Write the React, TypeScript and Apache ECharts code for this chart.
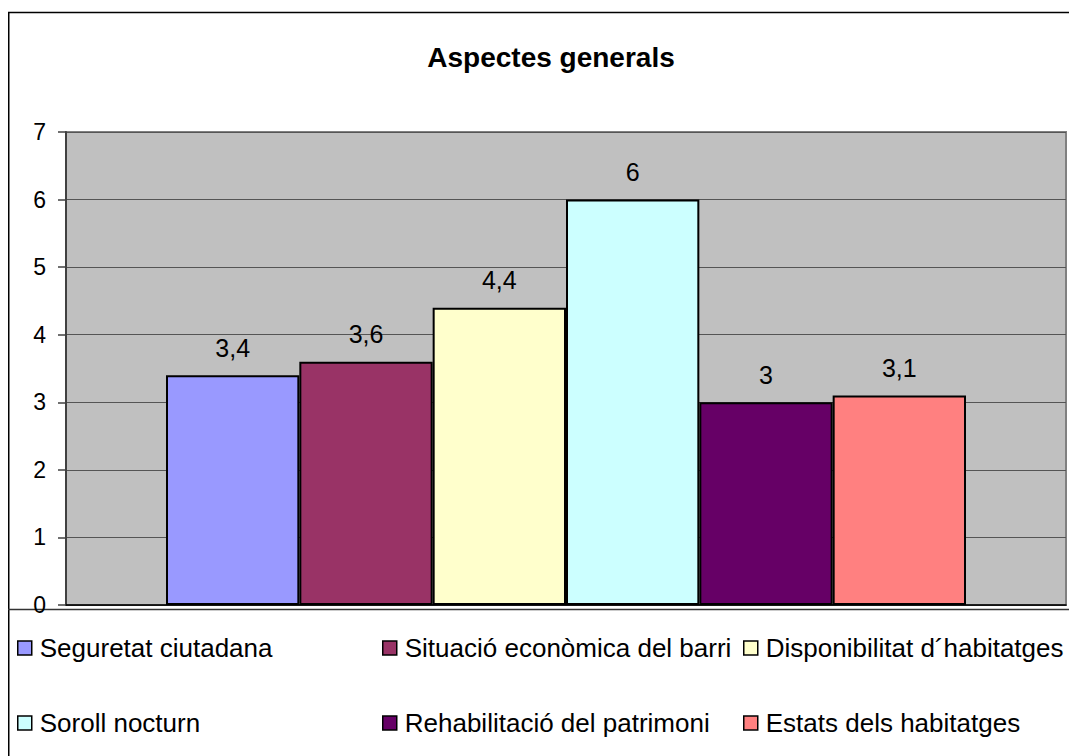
import React, { useEffect, useRef } from "react";
import * as echarts from "echarts";

const titleText = "Aspectes generals";
const seriesNames = [
  "Seguretat ciutadana",
  "Situació econòmica del barri",
  "Disponibilitat d´habitatges",
  "Soroll nocturn",
  "Rehabilitació del patrimoni",
  "Estats dels habitatges",
];
const seriesValues = [3.4, 3.6, 4.4, 6, 3, 3.1];
const seriesColors = ["#9999FF", "#993366", "#FFFFCC", "#CCFFFF", "#660066", "#FF8080"];
const yTicks = [0, 1, 2, 3, 4, 5, 6, 7];

const FONT = 'Arial, "Liberation Sans", sans-serif';

export default function App() {
  const ref = useRef<HTMLDivElement>(null);
  useEffect(() => {
    if (!ref.current) return;
    const chart = echarts.init(ref.current, null, { renderer: "svg" });
    const legendCols = [9, 374, 735];
    const legendRows = [627, 702];
    const legends = seriesNames.map((name, i) => ({
      show: true,
      data: [name],
      left: legendCols[i % 3],
      top: legendRows[Math.floor(i / 3)],
      itemWidth: 14,
      itemHeight: 14,
      icon: "rect",
      selectedMode: false,
      itemStyle: { borderColor: "#000", borderWidth: 1.5 },
      textStyle: { fontFamily: FONT, fontSize: 26, color: "#000", lineHeight: 26, padding: [0, 0, 0, 3] },
      padding: 0,
    }));
    chart.setOption({
      animation: false,
      backgroundColor: "#fff",
      title: {
        text: titleText,
        left: 538,
        textAlign: "center",
        top: 30,
        textStyle: { fontFamily: FONT, fontSize: 28, fontWeight: "bold", color: "#000", lineHeight: 28 },
      },
      graphic: [
        {
          type: "rect",
          shape: { x: 0.75, y: 4.5, width: 2000, height: 2000 },
          style: { fill: "none", stroke: "#000", lineWidth: 1.5 },
          z: -10,
          silent: true,
        },
        {
          type: "line",
          shape: { x1: 0, y1: 601.5, x2: 2000, y2: 601.5 },
          style: { stroke: "#333", lineWidth: 1.5 },
          silent: true,
        },
      ],
      legend: legends,
      grid: {
        left: 58,
        top: 124,
        width: 1000,
        height: 473,
        show: true,
        backgroundColor: "#C0C0C0",
        borderColor: "#808080",
        borderWidth: 2,
        containLabel: false,
      },
      xAxis: {
        type: "category",
        data: [""],
        axisLine: { show: true, lineStyle: { color: "#000", width: 1.5 } },
        axisTick: { show: false },
        axisLabel: { show: false },
      },
      yAxis: {
        type: "value",
        min: yTicks[0],
        max: yTicks[yTicks.length - 1],
        interval: 1,
        axisLine: { show: true, lineStyle: { color: "#404040", width: 2 } },
        axisTick: { show: true, length: 8, lineStyle: { color: "#404040", width: 1.5 } },
        axisLabel: { fontFamily: FONT, fontSize: 23, color: "#000", margin: 20 },
        splitLine: { show: true, lineStyle: { color: "#555", width: 1 } },
      },
      series: seriesNames.map((name, i) => ({
        type: "bar",
        name,
        data: [seriesValues[i]],
        barGap: "0%",
        barCategoryGap: "20%",
        itemStyle: { color: seriesColors[i], borderColor: "#000", borderWidth: 2 },
        label: {
          show: true,
          position: "top",
          distance: 15,
          fontFamily: FONT,
          fontSize: 25,
          lineHeight: 25,
          color: "#000",
          formatter: (p: any) => String(p.value).replace(".", ","),
        },
      })),
    });
    return () => chart.dispose();
  }, []);
  return <div ref={ref} style={{ width: 1069, height: 748 }} />;
}
